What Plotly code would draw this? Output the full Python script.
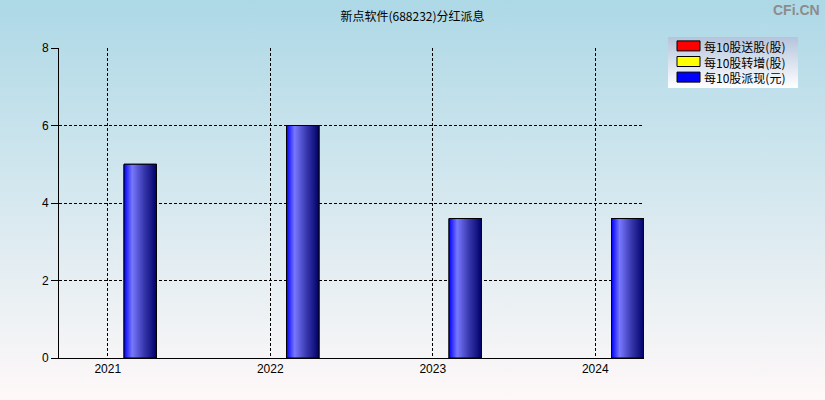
import base64

import plotly.graph_objects as go

# data
years = ["2021", "2022", "2023", "2024"]
song_gu = [0, 0, 0, 0]          # 每10股送股(股)
zhuan_zeng = [0, 0, 0, 0]       # 每10股转增(股)
pai_xian = [5.0, 6.0, 3.6, 3.6]  # 每10股派现(元)
y_ticks = [0, 2, 4, 6, 8]

TITLE = "新点软件(688232)分红派息"
NAMES = ["每10股送股(股)", "每10股转增(股)", "每10股派现(元)"]
COLORS = ["#ff0000", "#ffff00", "#0000ff"]

W, H = 825, 400
M_L, M_R, M_T, M_B = 59, 181, 48, 42
PW, PH = W - M_L - M_R, H - M_T - M_B

BAR_W = 0.2  # 3 bars per group, bargap 0.4
FONT = "Liberation Sans, Arial, sans-serif"
CJK = "Noto Sans CJK SC, sans-serif"
LEGEND_FS = 12
ROW = LEGEND_FS * 1.3  # plotly line spacing


def svg_gradient(top, bottom):
    svg = (
        '<svg xmlns="http://www.w3.org/2000/svg" width="10" height="100" preserveAspectRatio="none">'
        '<defs><linearGradient id="g" x1="0" y1="0" x2="0" y2="1">'
        f'<stop offset="0" stop-color="{top}"/><stop offset="1" stop-color="{bottom}"/>'
        '</linearGradient></defs><rect width="10" height="100" fill="url(#g)"/></svg>'
    )
    return "data:image/svg+xml;base64," + base64.b64encode(svg.encode()).decode()


def px_x(px):
    return (px - M_L) / PW


def px_y(py):
    return (H - M_B - py) / PH


def px_box(x0, y0, x1, y1):
    return dict(x=px_x(x0), y=px_y(y0), sizex=(x1 - x0) / PW, sizey=(y1 - y0) / PH)


idx = list(range(len(years)))
fig = go.Figure()

# grouped bars (送股, 转增 are all zero here)
for name, vals, color in zip(NAMES, [song_gu, zhuan_zeng, pai_xian], COLORS):
    fig.add_trace(
        go.Bar(
            x=idx,
            y=vals,
            name=name,
            marker=dict(color=color, line=dict(color="black", width=1 if any(vals) else 0)),
            showlegend=False,
            hoverinfo="skip",
        )
    )

# gradient fill on top of the 派现 bars
for i, v in zip(idx, pai_xian):
    if not v:
        continue
    x0, x1 = i + BAR_W / 2, i + BAR_W * 1.5
    fig.add_trace(
        go.Scatter(
            x=[x0, x1, x1, x0, x0],
            y=[0, 0, v, v, 0],
            mode="lines",
            fill="toself",
            fillgradient=dict(
                type="horizontal",
                colorscale=[[0, "#0000ff"], [0.25, "#7878ff"], [0.6, "#3a3ab0"], [1, "#00006a"]],
            ),
            line=dict(color="black", width=1),
            showlegend=False,
            hoverinfo="skip",
        )
    )

axis_common = dict(
    showgrid=True,
    gridcolor="black",
    griddash="3px,2px",
    gridwidth=1,
    zeroline=False,
    showline=True,
    linecolor="black",
    linewidth=1,
    tickfont=dict(family=FONT, size=12, color="black"),
)

fig.update_xaxes(**axis_common, range=[-0.3, 3.3], tickvals=idx, ticktext=years, ticks="")
fig.update_yaxes(
    **axis_common, range=[0, 8], tickvals=y_ticks, ticks="outside", ticklen=7, tickcolor="black"
)

# hand-drawn legend (compact rows like the original)
mid = 61.5
shapes = []
for k, color in enumerate(COLORS):
    cy = mid + (k - 1) * ROW
    shapes.append(
        dict(
            type="rect",
            xref="paper",
            yref="paper",
            x0=px_x(677),
            x1=px_x(700),
            y0=px_y(cy - 5),
            y1=px_y(cy + 5),
            fillcolor=color,
            line=dict(color="black", width=1),
        )
    )

annotations = [
    dict(
        text="<br>".join(NAMES),
        xref="paper",
        yref="paper",
        x=px_x(702),
        y=px_y(mid + 1),
        xanchor="left",
        yanchor="middle",
        align="left",
        showarrow=False,
        font=dict(family=CJK, size=LEGEND_FS, color="black"),
    ),
    dict(
        text="<b>CFi.CN</b>",
        xref="paper",
        yref="paper",
        x=px_x(822),
        y=px_y(10),
        xanchor="right",
        yanchor="middle",
        showarrow=False,
        font=dict(family=FONT, size=14, color="#8c8c8c"),
    ),
]

fig.update_layout(
    width=W,
    height=H,
    margin=dict(l=M_L, r=M_R, t=M_T, b=M_B),
    barmode="group",
    bargap=0.4,
    bargroupgap=0,
    showlegend=False,
    paper_bgcolor="rgba(0,0,0,0)",
    plot_bgcolor="rgba(0,0,0,0)",
    title=dict(
        text=TITLE,
        x=0.5,
        xref="container",
        xanchor="center",
        y=1 - 17 / H,
        yanchor="middle",
        font=dict(family=CJK, size=12, color="black"),
    ),
    shapes=shapes,
    annotations=annotations,
    images=[
        dict(
            source=svg_gradient("#add8e6", "#fff8f8"),
            xref="paper",
            yref="paper",
            **px_box(0, 0, W, H),
            sizing="stretch",
            layer="below",
        ),
        dict(
            source=svg_gradient("#b4c4dc", "#ffffff"),
            xref="paper",
            yref="paper",
            **px_box(668, 37, 798, 88),
            sizing="stretch",
            layer="above",
        ),
    ],
)

fig.write_html(
    "out.html",
    config={"displayModeBar": False},
    post_script="document.body.style.margin='0';",
)
